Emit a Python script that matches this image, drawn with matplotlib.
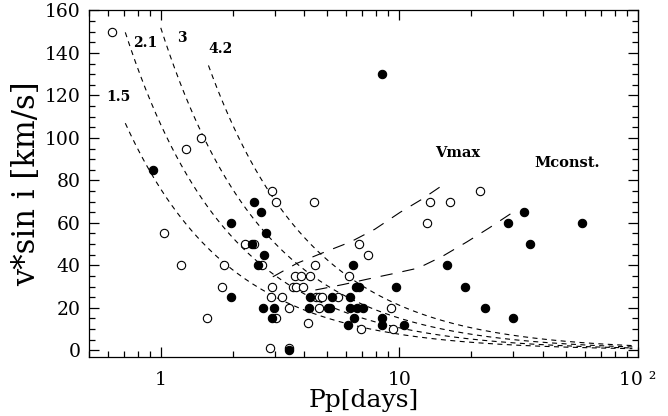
import numpy as np
import matplotlib
matplotlib.use('Agg')
from matplotlib import pyplot as plt
from matplotlib.ticker import LogLocator, NullFormatter, MultipleLocator

# open circles: period (days), v sin i (km/s)
p_open = [0.624, 1.03, 1.21, 1.27, 1.48, 1.57, 1.81, 1.85, 2.26, 2.47, 2.66,
          2.94, 3.05, 2.94, 2.91, 3.05, 2.86, 3.45, 3.22, 3.44, 3.67, 3.89,
          4.22, 3.60, 3.70, 3.95, 4.43, 4.40, 4.15, 4.49, 4.60, 4.74, 4.63,
          5.54, 6.18, 6.77, 6.91, 7.43, 9.24, 9.40, 13.1, 13.45, 16.4, 21.8]
v_open = [150, 55, 40, 95, 100, 15, 30, 40, 50, 50, 40,
          75, 70, 30, 25, 15, 1, 1, 25, 20, 35, 35,
          35, 30, 30, 30, 40, 70, 13, 25, 25, 25, 20,
          25, 35, 50, 10, 45, 20, 10, 60, 70, 70, 75]

# filled circles
p_fill = [0.924, 1.97, 1.97, 2.41, 2.47, 2.64, 2.76, 2.72, 2.55, 2.68, 2.99,
          2.94, 3.45, 4.17, 4.24, 5.05, 5.14, 5.24, 6.21, 6.43, 6.24, 6.64,
          7.07, 6.49, 6.09, 6.60, 6.77, 8.48, 8.48, 9.74, 10.45, 15.9, 18.8,
          23.0, 30.1, 28.65, 33.3, 35.4, 58.2, 8.48]
v_fill = [85, 60, 25, 50, 70, 65, 55, 45, 40, 20, 20,
          15, 0, 20, 25, 20, 20, 25, 25, 40, 20, 20,
          20, 15, 12, 30, 30, 15, 12, 30, 12, 40, 30,
          20, 15, 60, 65, 50, 60, 130]

# v = 2 pi R / P curves, radius in solar radii
radii = [1.5, 2.1, 3, 4.2]
radii_txt = ['1.5', '2.1', '3', '4.2']
p_start = [0.71, 0.71, 1.0, 1.585]
p_end = 95

# long dashed curves
p_vmax = [2.95, 3.73, 4.8, 6.24, 7.9, 10.1, 12.4, 15.8]
v_vmax = [34.6, 41, 46, 51, 57, 65, 71, 79]
p_mconst = [4.45, 5.83, 7.35, 9.35, 12.0, 15.2, 19.2, 23.9, 29.8, 31.4]
v_mconst = [28.4, 31, 33.5, 36, 38.7, 44.3, 51, 57.7, 64.8, 66.4]

plt.rcParams['font.family'] = ['DejaVu Serif']

fig = plt.figure(figsize=(6.68, 4.16), dpi=100)
ax = fig.add_axes([0.1332, 0.1425, 0.8214, 0.8325])

for r, ps in zip(radii, p_start):
    pp = np.geomspace(ps, p_end, 200)
    ax.plot(pp, 50.6 * r / pp, color='black', lw=0.8, linestyle=(0, (4.5, 4)))

ax.plot(p_vmax, v_vmax, color='black', lw=0.8, linestyle=(0, (11, 9)))
ax.plot(p_mconst, v_mconst, color='black', lw=0.8, linestyle=(0, (11, 9)))

ax.plot(p_open, v_open, 'o', ms=6, mfc='white', mec='black', mew=0.8, linestyle='none')
ax.plot(p_fill, v_fill, 'o', ms=6, mfc='black', mec='black', mew=0.8, linestyle='none')

# curve labels
lab_pos = [(0.662, 119.4), (0.859, 144.8), (1.225, 147.2), (1.775, 142)]
for t, (px, py) in zip(radii_txt, lab_pos):
    ax.text(px, py, t, fontsize=10, fontweight='bold', ha='center', va='center')
ax.text(17.65, 92.9, 'Vmax', fontsize=10.5, fontweight='bold', ha='center', va='center')
ax.text(50.5, 88.2, 'Mconst.', fontsize=10.5, fontweight='bold', ha='center', va='center')

ax.set_xscale('log')
ax.set_xlim(0.5, 100)
ax.set_ylim(-3, 160)
ax.set_xticks([1, 10, 100])
ax.set_xticklabels(['1', '10', '10 ²'])
ax.xaxis.set_minor_locator(LogLocator(base=10, subs=np.arange(2, 10)))
ax.xaxis.set_minor_formatter(NullFormatter())
ax.yaxis.set_major_locator(MultipleLocator(20))
ax.yaxis.set_minor_locator(MultipleLocator(5))

ax.tick_params(which='both', direction='in', top=True, right=True, width=0.9)
ax.tick_params(which='major', length=7, labelsize=13.5)
ax.tick_params(which='minor', length=4)
ax.tick_params(axis='x', pad=10)
ax.tick_params(axis='y', pad=6)
for s in ax.spines.values():
    s.set_linewidth(0.9)

ax.set_xlabel('Pp[days]', fontsize=18, labelpad=0)
ax.set_ylabel('v*sin i [km/s]', fontsize=22, labelpad=2)

plt.savefig('out.png', dpi=100)
